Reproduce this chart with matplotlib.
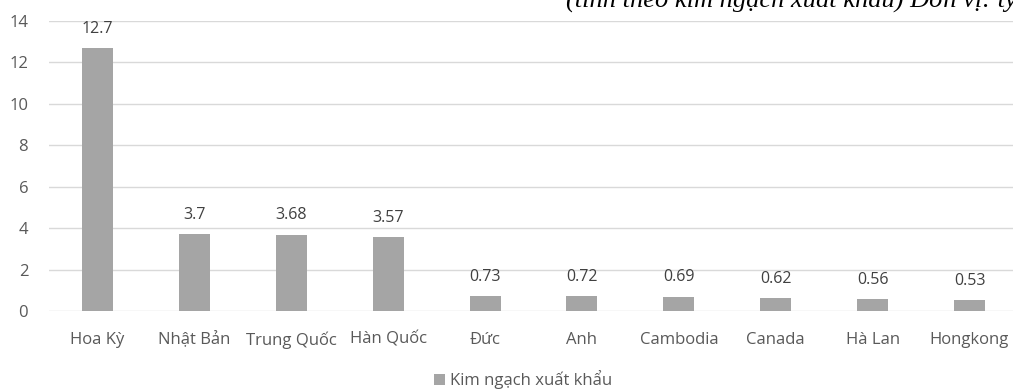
import matplotlib
matplotlib.use("Agg")
import matplotlib.pyplot as plt
from matplotlib.patches import Patch

countries = ["Hoa Kỳ", "Nhật Bản", "Trung Quốc", "Hàn Quốc", "Đức", "Anh",
             "Cambodia", "Canada", "Hà Lan", "Hongkong"]
values = [12.7, 3.7, 3.68, 3.57, 0.73, 0.72, 0.69, 0.62, 0.56, 0.53]
value_labels = ["12.7", "3.7", "3.68", "3.57", "0.73", "0.72", "0.69", "0.62", "0.56", "0.53"]
yticks = [0, 2, 4, 6, 8, 10, 12, 14]
series_name = "Kim ngạch xuất khẩu"
subtitle = "(tính theo kim ngạch xuất khẩu) Đơn vị: tỷ USD"

plt.rcParams["font.family"] = ["Open Sans", "DejaVu Sans"]

fig = plt.figure(figsize=(10.13, 3.9), dpi=100)
ax = fig.add_axes([49 / 1013, (390 - 311) / 390, 969 / 1013, 290 / 390])

bar_color = "#A5A5A5"
x = list(range(len(countries)))
ax.bar(x, values, width=0.32, color=bar_color, zorder=3)

for xi, v, lab in zip(x, values, value_labels):
    ax.annotate(lab, (xi, v), xytext=(0, 11), textcoords="offset points",
                ha="center", va="baseline", fontsize=11.5, color="#404040")

ax.set_xlim(-0.5, len(countries) - 0.5)
ax.set_ylim(0, 14)
ax.set_yticks(yticks)
ax.set_yticklabels([str(t) for t in yticks])
ax.set_xticks(x)
ax.set_xticklabels(countries)
ax.tick_params(axis="both", length=0, labelsize=12, colors="#595959")
ax.tick_params(axis="x", pad=15)
ax.tick_params(axis="y", pad=15)
ax.grid(axis="y", color="#D9D9D9", linewidth=1, zorder=0)
for s in ax.spines.values():
    s.set_visible(False)

fig.legend(handles=[Patch(facecolor=bar_color, edgecolor="none")], labels=[series_name],
           loc="center", bbox_to_anchor=(523 / 1013, 1 - 380 / 390), frameon=False,
           fontsize=12, labelcolor="#595959", handlelength=0.7, handleheight=0.7,
           handletextpad=0.3, borderpad=0, borderaxespad=0)

fig.text(566 / 1013, 1 - 7 / 390, subtitle, fontsize=19, style="italic",
         family="Liberation Serif", color="#000000", ha="left", va="baseline")

fig.savefig("out.png", dpi=100)
